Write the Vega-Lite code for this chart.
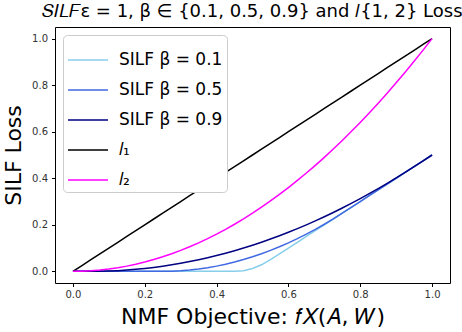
{
  "$schema": "https://vega.github.io/schema/vega-lite/v6.json",
  "autosize": {"type": "none"},
  "padding": {"left": 55, "top": 27, "right": 12, "bottom": 49},
  "width": 395,
  "height": 256,
  "title": {
    "text": "𝑆𝐼𝐿𝐹ε = 1, β ∈ {0.1, 0.5, 0.9} and 𝑙{1, 2} Loss",
    "font": "DejaVu Sans",
    "fontSize": 18,
    "fontWeight": "normal",
    "color": "black",
    "offset": 6,
    "anchor": "middle"
  },
  "config": {
    "font": "DejaVu Sans",
    "view": {"stroke": "black", "strokeWidth": 1},
    "axis": {
      "grid": false,
      "domainColor": "black",
      "tickColor": "black",
      "tickSize": 3.5,
      "labelFontSize": 10,
      "labelColor": "#333333",
      "labelFont": "DejaVu Sans",
      "titleFont": "DejaVu Sans",
      "titleFontSize": 22,
      "titleFontWeight": "normal",
      "titleColor": "black"
    }
  },
  "data": {
    "values": [
      {"x": 0, "b1": 0, "b5": 0, "b9": 0, "l1": 0, "l2": 0},
      {"x": 0.025, "b1": 0, "b5": 0, "b9": 0, "l1": 0.025, "l2": 0.000625},
      {"x": 0.05, "b1": 0, "b5": 0, "b9": 0, "l1": 0.05, "l2": 0.0025},
      {"x": 0.075, "b1": 0, "b5": 0, "b9": 0.000347, "l1": 0.075, "l2": 0.005625},
      {"x": 0.1, "b1": 0, "b5": 0, "b9": 0.001389, "l1": 0.1, "l2": 0.01},
      {"x": 0.125, "b1": 0, "b5": 0, "b9": 0.003125, "l1": 0.125, "l2": 0.015625},
      {"x": 0.15, "b1": 0, "b5": 0, "b9": 0.005556, "l1": 0.15, "l2": 0.0225},
      {"x": 0.175, "b1": 0, "b5": 0, "b9": 0.008681, "l1": 0.175, "l2": 0.030625},
      {"x": 0.2, "b1": 0, "b5": 0, "b9": 0.0125, "l1": 0.2, "l2": 0.04},
      {"x": 0.225, "b1": 0, "b5": 0, "b9": 0.017014, "l1": 0.225, "l2": 0.050625},
      {"x": 0.25, "b1": 0, "b5": 0, "b9": 0.022222, "l1": 0.25, "l2": 0.0625},
      {"x": 0.275, "b1": 0, "b5": 0.000625, "b9": 0.028125, "l1": 0.275, "l2": 0.075625},
      {"x": 0.3, "b1": 0, "b5": 0.0025, "b9": 0.034722, "l1": 0.3, "l2": 0.09},
      {"x": 0.325, "b1": 0, "b5": 0.005625, "b9": 0.042014, "l1": 0.325, "l2": 0.105625},
      {"x": 0.35, "b1": 0, "b5": 0.01, "b9": 0.05, "l1": 0.35, "l2": 0.1225},
      {"x": 0.375, "b1": 0, "b5": 0.015625, "b9": 0.058681, "l1": 0.375, "l2": 0.140625},
      {"x": 0.4, "b1": 0, "b5": 0.0225, "b9": 0.068056, "l1": 0.4, "l2": 0.16},
      {"x": 0.425, "b1": 0, "b5": 0.030625, "b9": 0.078125, "l1": 0.425, "l2": 0.180625},
      {"x": 0.45, "b1": 0, "b5": 0.04, "b9": 0.088889, "l1": 0.45, "l2": 0.2025},
      {"x": 0.475, "b1": 0.003125, "b5": 0.050625, "b9": 0.100347, "l1": 0.475, "l2": 0.225625},
      {"x": 0.5, "b1": 0.0125, "b5": 0.0625, "b9": 0.1125, "l1": 0.5, "l2": 0.25},
      {"x": 0.525, "b1": 0.028125, "b5": 0.075625, "b9": 0.125347, "l1": 0.525, "l2": 0.275625},
      {"x": 0.55, "b1": 0.05, "b5": 0.09, "b9": 0.138889, "l1": 0.55, "l2": 0.3025},
      {"x": 0.575, "b1": 0.075, "b5": 0.105625, "b9": 0.153125, "l1": 0.575, "l2": 0.330625},
      {"x": 0.6, "b1": 0.1, "b5": 0.1225, "b9": 0.168056, "l1": 0.6, "l2": 0.36},
      {"x": 0.625, "b1": 0.125, "b5": 0.140625, "b9": 0.183681, "l1": 0.625, "l2": 0.390625},
      {"x": 0.65, "b1": 0.15, "b5": 0.16, "b9": 0.2, "l1": 0.65, "l2": 0.4225},
      {"x": 0.675, "b1": 0.175, "b5": 0.180625, "b9": 0.217014, "l1": 0.675, "l2": 0.455625},
      {"x": 0.7, "b1": 0.2, "b5": 0.2025, "b9": 0.234722, "l1": 0.7, "l2": 0.49},
      {"x": 0.725, "b1": 0.225, "b5": 0.225625, "b9": 0.253125, "l1": 0.725, "l2": 0.525625},
      {"x": 0.75, "b1": 0.25, "b5": 0.25, "b9": 0.272222, "l1": 0.75, "l2": 0.5625},
      {"x": 0.775, "b1": 0.275, "b5": 0.275, "b9": 0.292014, "l1": 0.775, "l2": 0.600625},
      {"x": 0.8, "b1": 0.3, "b5": 0.3, "b9": 0.3125, "l1": 0.8, "l2": 0.64},
      {"x": 0.825, "b1": 0.325, "b5": 0.325, "b9": 0.333681, "l1": 0.825, "l2": 0.680625},
      {"x": 0.85, "b1": 0.35, "b5": 0.35, "b9": 0.355556, "l1": 0.85, "l2": 0.7225},
      {"x": 0.875, "b1": 0.375, "b5": 0.375, "b9": 0.378125, "l1": 0.875, "l2": 0.765625},
      {"x": 0.9, "b1": 0.4, "b5": 0.4, "b9": 0.401389, "l1": 0.9, "l2": 0.81},
      {"x": 0.925, "b1": 0.425, "b5": 0.425, "b9": 0.425347, "l1": 0.925, "l2": 0.855625},
      {"x": 0.95, "b1": 0.45, "b5": 0.45, "b9": 0.45, "l1": 0.95, "l2": 0.9025},
      {"x": 0.975, "b1": 0.475, "b5": 0.475, "b9": 0.475, "l1": 0.975, "l2": 0.950625},
      {"x": 1, "b1": 0.5, "b5": 0.5, "b9": 0.5, "l1": 1, "l2": 1}
    ]
  },
  "transform": [
    {"fold": ["b1", "b5", "b9", "l1", "l2"], "as": ["series", "y"]},
    {"lookup": "series", "from": {"data": {"values": [
      {"series": "b1", "name": "SILF β = 0.1", "ord": 1},
      {"series": "b5", "name": "SILF β = 0.5", "ord": 2},
      {"series": "b9", "name": "SILF β = 0.9", "ord": 3},
      {"series": "l1", "name": "𝑙₁", "ord": 4},
      {"series": "l2", "name": "𝑙₂", "ord": 5}
    ]}, "key": "series", "fields": ["name", "ord"]}}
  ],
  "mark": {"type": "line", "strokeWidth": 1.5, "clip": true},
  "encoding": {
    "x": {
      "field": "x", "type": "quantitative",
      "scale": {"domain": [-0.05, 1.05], "nice": false, "zero": false},
      "axis": {"values": [0, 0.2, 0.4, 0.6, 0.8, 1.0], "format": ".1f", "title": "NMF Objective: 𝑓𝑋(𝐴, 𝑊)", "titlePadding": 7, "labelPadding": 3, "domain": false}
    },
    "y": {
      "field": "y", "type": "quantitative",
      "scale": {"domain": [-0.05, 1.05], "nice": false, "zero": false},
      "axis": {"values": [0, 0.2, 0.4, 0.6, 0.8, 1.0], "format": ".1f", "title": "SILF Loss", "titleFontSize": 22, "titlePadding": 6, "labelPadding": 4, "domain": false}
    },
    "color": {
      "field": "name", "type": "nominal",
      "scale": {
        "domain": ["SILF β = 0.1", "SILF β = 0.5", "SILF β = 0.9", "𝑙₁", "𝑙₂"],
        "range": ["#87CEEB", "#4169E1", "#000080", "#000000", "#FF00FF"]
      },
      "legend": {
        "title": null,
        "orient": "top-left",
        "offset": 8,
        "padding": 4,
        "fillColor": "white",
        "strokeColor": "#cccccc",
        "cornerRadius": 4,
        "symbolType": "stroke",
        "symbolSize": 1600,
        "symbolStrokeWidth": 2,
        "symbolOpacity": 0.75,
        "labelFontSize": 17,
        "labelFont": "DejaVu Sans",
        "labelColor": "black",
        "labelOffset": 10,
        "rowPadding": 1
      }
    },
    "order": {"field": "ord", "type": "quantitative"}
  }
}
